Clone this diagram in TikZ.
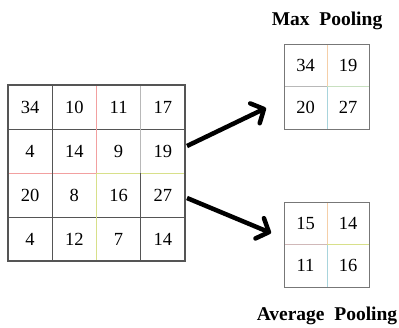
\documentclass[tikz,border=0pt]{standalone}
\usepackage{fontspec}
\setmainfont{Liberation Serif}
\usetikzlibrary{arrows.meta}
\definecolor{gridgray}{HTML}{555555}
\definecolor{linepink}{HTML}{F2A0A0}
\definecolor{lineyel}{HTML}{D8E08A}
\definecolor{linelgray}{HTML}{B8B8B8}
\definecolor{lineorange}{HTML}{F5CFA8}
\definecolor{lineblue}{HTML}{A8D4DC}
\definecolor{linegreen}{HTML}{C8E0C0}
\definecolor{linemauve}{HTML}{D0B8B8}
\tikzset{
  outerbox/.style={draw=gridgray, line width=1.1pt},
  innerline/.style={line width=0.8pt},
  num/.style={font=\fontsize{18.5}{20}\selectfont, inner sep=0pt},
  title/.style={font=\fontsize{19.5}{22}\selectfont\bfseries, inner sep=0pt},
  bigarrow/.style={line width=4.5pt, -{Straight Barb[length=10pt, width=22pt, round]}}
}
\begin{document}
\begin{tikzpicture}[x=1pt,y=-1pt]
\useasboundingbox (0,0) rectangle (399,327);

% input feature map, 4x4
\draw[innerline, gridgray] (8,129) -- (185,129);
\draw[innerline, gridgray] (8,217) -- (185,217);
\draw[innerline, linepink] (8,173) -- (97,173);
\draw[innerline, lineyel] (97,173) -- (185,173);
\draw[innerline, gridgray] (52.25,85) -- (52.25,261);
\draw[innerline, linepink] (96.5,85) -- (96.5,173);
\draw[innerline, lineyel] (96.5,173) -- (96.5,261);
\draw[innerline, linelgray] (140.75,85) -- (140.75,173);
\draw[innerline, gridgray] (140.75,173) -- (140.75,261);
\draw[outerbox] (8,85) rectangle (185,261);
\foreach \row/\vals in {0/{34,10,11,17},1/{4,14,9,19},2/{20,8,16,27},3/{4,12,7,14}} {
  \foreach \v [count=\c from 0] in \vals {
    \node[num] (m\row\c) at (30.1+44.25*\c, 107+44*\row) {\v};
  }
}

% max pooling result
\node[title] (maxt) at (327,21) {Max\ \ Pooling};
\draw[innerline, lineorange] (327,44) -- (327,86.5);
\draw[innerline, lineblue] (327,86.5) -- (327,129);
\draw[innerline, linelgray] (284,86.5) -- (327,86.5);
\draw[innerline, linegreen] (327,86.5) -- (369,86.5);
\draw[outerbox, line width=0.9pt, draw=gridgray!80] (284,44) rectangle (369,129);
\node[num] (p00) at (305.5,65.5) {34};
\node[num] (p01) at (348,65.5) {19};
\node[num] (p10) at (305.5,107.5) {20};
\node[num] (p11) at (348,107.5) {27};

% average pooling result
\draw[innerline, lineorange] (327,202) -- (327,244.5);
\draw[innerline, lineblue] (327,244.5) -- (327,287);
\draw[innerline, linemauve] (284,244.5) -- (327,244.5);
\draw[innerline, lineyel] (327,244.5) -- (369,244.5);
\draw[outerbox, line width=0.9pt, draw=gridgray!80] (284,202) rectangle (369,287);
\node[num] (a00) at (305.5,223.5) {15};
\node[num] (a01) at (348,223.5) {14};
\node[num] (a10) at (305.5,265.5) {11};
\node[num] (a11) at (348,265.5) {16};
\node[title] (avgt) at (327,316) {Average\ \ Pooling};

% arrows
\coordinate (s1) at (187,146);
\coordinate (e1) at (266,108);
\coordinate (s2) at (187,198);
\coordinate (e2) at (271,233);
\draw[bigarrow] (s1) -- (e1);
\draw[bigarrow] (s2) -- (e2);
\end{tikzpicture}
\end{document}
